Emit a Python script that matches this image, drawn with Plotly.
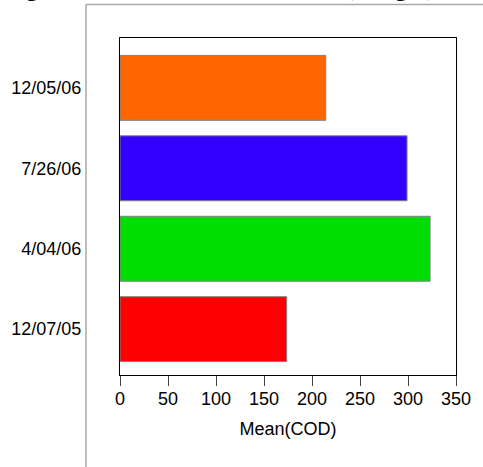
import plotly.graph_objects as go

dates = ["12/07/05", "4/04/06", "7/26/06", "12/05/06"]
mean_cod = [173.6, 323, 299, 214.3]
bar_colors = ["#FF0000", "#00DD00", "#3300FF", "#FF6600"]
x_ticks = [0, 50, 100, 150, 200, 250, 300, 350]
title_text = "Figure 5. Mean COD for Each Date (in mg/L)"

fig = go.Figure(go.Bar(
    y=dates, x=mean_cod, orientation="h",
    marker=dict(color=bar_colors, line=dict(color="#808080", width=1)),
    width=0.807,
))

axis_font = dict(family="Liberation Sans, Arial, sans-serif", size=18, color="black")

fig.update_layout(
    width=483, height=467,
    margin=dict(l=120, r=27, t=38, b=92),
    paper_bgcolor="white", plot_bgcolor="white",
    showlegend=False,
    xaxis=dict(range=[0, 350], tickvals=x_ticks, ticks="outside", ticklen=10,
               tickcolor="#444", showgrid=False, zeroline=False,
               showline=True, linecolor="black", linewidth=1, mirror=True,
               tickfont=axis_font, ticklabelstandoff=-3,
               title=dict(text="Mean(COD)", font=axis_font, standoff=14)),
    yaxis=dict(type="category", range=[-0.57, 3.62], ticks="", showgrid=False,
               zeroline=False, showline=True, linecolor="black", linewidth=1,
               mirror=True, tickfont=axis_font, ticklabelstandoff=34),
    shapes=[
        dict(type="line", xref="paper", yref="paper", x0=-0.1012, x1=-0.1012,
             y0=1.0994, y1=-0.3, line=dict(color="#A8A8A8", width=1.5)),
        dict(type="line", xref="paper", yref="paper", x0=-0.1012, x1=1.2,
             y0=1.0994, y1=1.0994, line=dict(color="#A8A8A8", width=1.5)),
    ],
    annotations=[dict(text="<b>" + title_text + "</b>", xref="paper", yref="paper",
                      x=-0.342, y=1.104, xanchor="left", yanchor="bottom",
                      showarrow=False,
                      font=dict(family="Liberation Serif, Times New Roman, serif",
                                size=22, color="black"))],
)

fig.write_html("out.html", config={"displayModeBar": False},
               post_script="document.body.style.margin='0';document.body.style.padding='0';")
